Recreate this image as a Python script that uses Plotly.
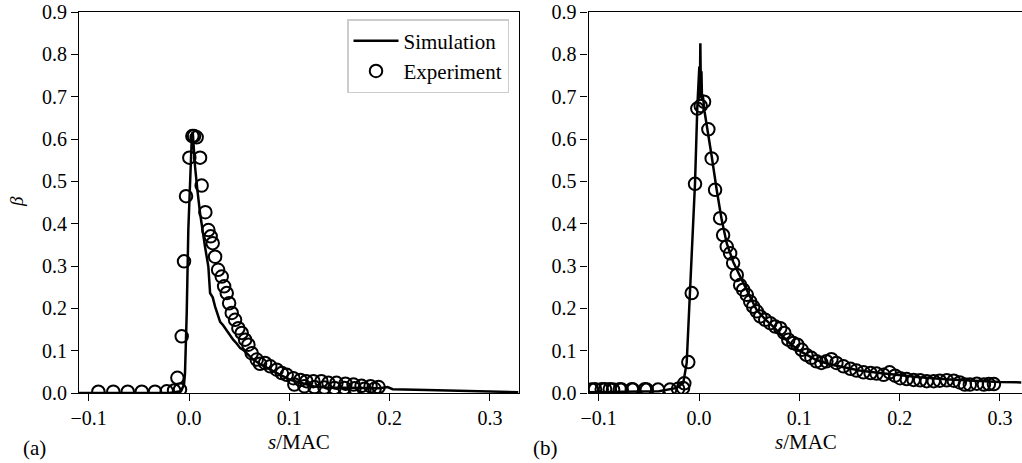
import plotly.graph_objects as go

# panel (a) simulation
sim_a_x = [-0.110, -0.020, -0.008, -0.005, -0.004, -0.0023, -0.0007, 0.001, 0.0027, 0.0037,
           0.006, 0.0083, 0.011, 0.016, 0.0193, 0.021, 0.0236, 0.026, 0.031, 0.034,
           0.037, 0.041, 0.044, 0.0475, 0.051, 0.054, 0.0575, 0.061, 0.064, 0.071,
           0.081, 0.091, 0.101, 0.111, 0.124, 0.137, 0.154, 0.171, 0.190, 0.198,
           0.203, 0.237, 0.270, 0.3285]
sim_a_y = [0.0, 0.0, 0.004, 0.020, 0.047, 0.189, 0.385, 0.503, 0.600, 0.617,
           0.535, 0.480, 0.425, 0.345, 0.298, 0.236, 0.226, 0.204, 0.168, 0.160,
           0.150, 0.134, 0.126, 0.117, 0.106, 0.102, 0.094, 0.086, 0.079, 0.068,
           0.055, 0.043, 0.031, 0.024, 0.016, 0.013, 0.012, 0.011, 0.011, 0.014,
           0.009, 0.007, 0.005, 0.002]

# panel (a) experiment
exp_a_x = [-0.0904, -0.0755, -0.0611, -0.0471, -0.0339, -0.0222, -0.0149, -0.0090,
           -0.0116, -0.0073, -0.0050, -0.0030, 0.0003, 0.0033, 0.0050, 0.0076,
           0.0110, 0.0126, 0.0163, 0.0193, 0.0216, 0.0236, 0.0260, 0.0290,
           0.0326, 0.0350, 0.0376, 0.0400, 0.0426, 0.0459, 0.0492, 0.0525,
           0.0559, 0.0592, 0.0625, 0.0675, 0.0708, 0.0758, 0.0810, 0.0875,
           0.0925, 0.0974, 0.1040, 0.1110, 0.1170, 0.1240, 0.1320, 0.1390,
           0.1470, 0.1560, 0.1640, 0.1720, 0.1810, 0.1890,
           0.1050, 0.1150, 0.1250, 0.1350, 0.1450, 0.1550, 0.1650, 0.1750, 0.1850]
exp_a_y = [0.003, 0.003, 0.003, 0.003, 0.003, 0.004, 0.006, 0.008,
           0.036, 0.134, 0.311, 0.465, 0.556, 0.607, 0.607, 0.604,
           0.556, 0.490, 0.427, 0.385, 0.370, 0.354, 0.322, 0.291,
           0.275, 0.252, 0.236, 0.212, 0.189, 0.173, 0.153, 0.142,
           0.126, 0.114, 0.094, 0.079, 0.069, 0.071, 0.063, 0.055,
           0.047, 0.043, 0.035, 0.031, 0.028, 0.028, 0.028, 0.024,
           0.024, 0.022, 0.020, 0.017, 0.016, 0.014,
           0.020, 0.016, 0.014, 0.013, 0.012, 0.012, 0.011, 0.010, 0.010]

# panel (b) simulation
sim_b_x = [-0.110, -0.040, -0.022, -0.0157, -0.0123, -0.009, -0.0065, -0.004, -0.0017, 0.0003,
           0.0008, 0.0013, 0.0018, 0.0024, 0.0030, 0.0037, 0.0055, 0.0077, 0.0127, 0.0176,
           0.0226, 0.0276, 0.034, 0.041, 0.049, 0.0575, 0.066, 0.074, 0.082, 0.0907,
           0.100, 0.117, 0.130, 0.145, 0.160, 0.180, 0.200, 0.220, 0.250, 0.280,
           0.300, 0.3215]
sim_b_y = [0.002, 0.004, 0.012, 0.024, 0.071, 0.236, 0.380, 0.496, 0.676, 0.771,
           0.700, 0.826, 0.720, 0.760, 0.690, 0.705, 0.665, 0.629, 0.558, 0.480,
           0.409, 0.354, 0.310, 0.275, 0.236, 0.196, 0.174, 0.157, 0.137, 0.117,
           0.100, 0.078, 0.068, 0.060, 0.053, 0.047, 0.042, 0.037, 0.032, 0.028,
           0.026, 0.025]

# panel (b) experiment
exp_b_x = [-0.1070, -0.1037, -0.0970, -0.0937, -0.0890, -0.0857, -0.0790, -0.0771,
           -0.0670, -0.0658, -0.0540, -0.0521, -0.0409, -0.0289, -0.0209, -0.0159,
           -0.0147, -0.0107, -0.0073, -0.0040, -0.0017, 0.0017, 0.0050, 0.0093,
           0.0126, 0.0160, 0.0210, 0.0240, 0.0276, 0.0310, 0.0340, 0.0376,
           0.0410, 0.0440, 0.0476, 0.0510, 0.0540, 0.0575, 0.0610, 0.0660,
           0.0710, 0.0760, 0.0810, 0.0850, 0.0890, 0.0940, 0.0980, 0.1024,
           0.1070, 0.1120, 0.1170, 0.1220, 0.1270, 0.1320, 0.1370, 0.1440,
           0.1510, 0.1570, 0.1640, 0.1710, 0.1770, 0.1840, 0.1900, 0.1955,
           0.2005, 0.2070, 0.2140, 0.2205, 0.2270, 0.2340, 0.2400, 0.2470,
           0.2540, 0.2600, 0.2650, 0.2700, 0.2770, 0.2840, 0.2890, 0.2940]
exp_b_y = [0.008, 0.009, 0.009, 0.009, 0.009, 0.008, 0.009, 0.008,
           0.009, 0.008, 0.009, 0.008, 0.008, 0.008, 0.010, 0.012,
           0.023, 0.073, 0.236, 0.494, 0.672, 0.678, 0.688, 0.623,
           0.554, 0.480, 0.413, 0.373, 0.346, 0.330, 0.307, 0.279,
           0.255, 0.244, 0.232, 0.216, 0.204, 0.193, 0.181, 0.173,
           0.165, 0.157, 0.153, 0.142, 0.126, 0.118, 0.114, 0.102,
           0.090, 0.083, 0.075, 0.071, 0.075, 0.080, 0.071, 0.063,
           0.057, 0.053, 0.049, 0.047, 0.046, 0.043, 0.049, 0.041,
           0.035, 0.033, 0.031, 0.030, 0.028, 0.028, 0.029, 0.030,
           0.029, 0.025, 0.020, 0.020, 0.022, 0.020, 0.021, 0.021]

serif = "Liberation Serif"
W, H = 1022, 463

fig = go.Figure()

# simulation lines
fig.add_trace(go.Scatter(x=sim_a_x, y=sim_a_y, mode="lines", name="Simulation",
                         line=dict(color="black", width=2.5), xaxis="x", yaxis="y"))
fig.add_trace(go.Scatter(x=exp_a_x, y=exp_a_y, mode="markers", name="Experiment",
                         marker=dict(symbol="circle-open", size=12.5, color="black",
                                     line=dict(width=2, color="black")),
                         xaxis="x", yaxis="y"))
fig.add_trace(go.Scatter(x=sim_b_x, y=sim_b_y, mode="lines", showlegend=False,
                         line=dict(color="black", width=2.5), xaxis="x2", yaxis="y2"))
fig.add_trace(go.Scatter(x=exp_b_x, y=exp_b_y, mode="markers", showlegend=False,
                         marker=dict(symbol="circle-open", size=12.5, color="black",
                                     line=dict(width=2, color="black")),
                         xaxis="x2", yaxis="y2"))

# common axis look (matplotlib-like box)
ax = dict(showline=True, linecolor="black", linewidth=1.2, mirror=True,
          ticks="outside", ticklen=7, tickwidth=1, tickcolor="black",
          showgrid=False, zeroline=False, dtick=0.1, tickformat=".1f",
          automargin=False,
          tickfont=dict(family=serif, size=20, color="black"))

ydom = [1 - 393 / H, 1 - 12 / H]
fig.update_layout(
    width=W, height=H,
    margin=dict(l=0, r=0, t=0, b=0, pad=0, autoexpand=False),
    plot_bgcolor="white", paper_bgcolor="white",
    xaxis=dict(ax, domain=[79 / W, 518.5 / W], range=[-0.1097, 0.3285], anchor="y"),
    yaxis=dict(ax, domain=ydom, range=[0, 0.9], anchor="x"),
    xaxis2=dict(ax, domain=[588.5 / W, 1021.5 / W], range=[-0.1102, 0.3215], anchor="y2"),
    yaxis2=dict(ax, domain=ydom, range=[0, 0.9], anchor="x2"),
    legend=dict(x=509 / W, y=1 - 19 / H, xanchor="right", yanchor="top",
                bgcolor="rgba(255,255,255,0.8)", bordercolor="#cccccc", borderwidth=1.5,
                itemwidth=45, tracegroupgap=0,
                font=dict(family=serif, size=21, color="black")),
    font=dict(family=serif, color="black"),
)

labels = [
    dict(text="<i>s</i>/MAC", x=298.5 / W, y=1 - 442 / H, size=21, angle=0),
    dict(text="<i>s</i>/MAC", x=806 / W, y=1 - 442 / H, size=21, angle=0),
    dict(text="<i>β</i>", x=16 / W, y=1 - 202 / H, size=19, angle=-90),
    dict(text="(a)", x=34 / W, y=1 - 448 / H, size=21, angle=0),
    dict(text="(b)", x=545.5 / W, y=1 - 448 / H, size=21, angle=0),
]
for lb in labels:
    fig.add_annotation(text=lb["text"], x=lb["x"], y=lb["y"], xref="paper", yref="paper",
                       showarrow=False, textangle=lb["angle"], xanchor="center", yanchor="middle",
                       font=dict(family=serif, size=lb["size"], color="black"))

# page body has a default 8px margin; drop it so the figure sits at the window corner
fig.write_html("out.html", config={"displayModeBar": False},
               post_script="document.body.style.margin='0';")
